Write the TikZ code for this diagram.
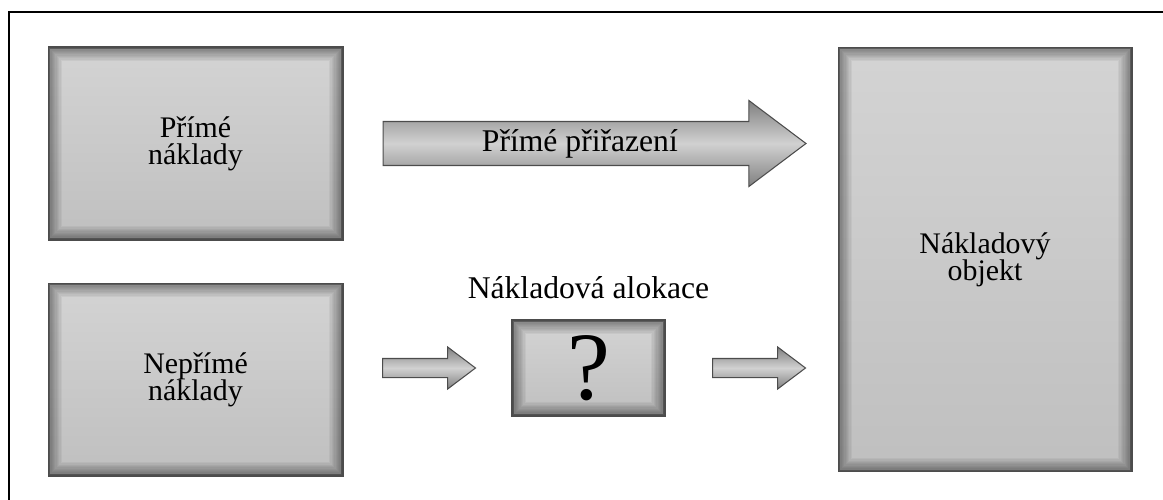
\documentclass[tikz,border=0pt]{standalone}
\usepackage{fontspec}
\setmainfont{Liberation Serif}
\usetikzlibrary{positioning,shapes.arrows}

\begin{document}
\begin{tikzpicture}[
  x=0.02cm, y=-0.02cm,
  glow/.style={path picture={
      \foreach \lw in {16,14.5,...,1}
        \draw[black, line width=\lw pt, opacity=0.045]
          (path picture bounding box.south west) rectangle (path picture bounding box.north east);
      \draw[black, line width=2pt, opacity=0.3]
        (path picture bounding box.south west) rectangle (path picture bounding box.north east);
    }},
  block_cost/.style={rectangle, draw=black!70, line width=0.6pt, top color=black!17, bottom color=black!25,
    glow, align=center, font=\fontsize{17}{15.5}\selectfont, minimum width=5.9cm, minimum height=3.86cm},
  block_object/.style={block_cost, minimum width=5.88cm, minimum height=8.5cm},
  block_alloc/.style={block_cost, minimum width=3.06cm, minimum height=1.92cm, inner sep=0pt,
    font=\fontsize{55}{55}\selectfont},
  arrow_big/.style={single arrow, draw=black!70, line width=0.6pt, top color=black!50, bottom color=black!50,
    middle color=black!18, single arrow head extend=0.42cm, single arrow tip angle=74,
    minimum height=8.46cm, inner xsep=0pt, inner ysep=0.17cm, text height=0.42cm, text depth=0.1cm,
    font=\fontsize{18}{14}\selectfont},
  arrow_small/.style={arrow_big, single arrow head extend=0.23cm, minimum height=1.86cm,
    inner ysep=0.18cm, text height=0pt, text depth=0pt},
  label/.style={inner sep=0pt, font=\fontsize{18}{14}\selectfont}
  ]
\useasboundingbox (0,0) rectangle (1163,500);

% frame, cut at the right and at the bottom
\draw [line width=1.5pt] (9,520) -- (9,12) -- (1180,12);

\node [block_cost] (direct) at (195.5,143.5) {Přímé\\náklady};
\node [block_cost, below=0.84cm of direct] (indirect) {Nepřímé\\náklady};
\node [block_object] (object) at (985,259.5) {Nákladový\\objekt};

\node [arrow_big, right=0.78cm of direct] (assign) {Přímé přiřazení};

\node [block_alloc] (alloc) at (588.5,368) {?};
\node [label, above=0.4cm of alloc] (alloc_label) {Nákladová alokace};
\node [arrow_small, anchor=tail] (arr_in) at (382,368) {};
\node [arrow_small, anchor=tail] (arr_out) at (712,368) {};

\end{tikzpicture}
\end{document}
